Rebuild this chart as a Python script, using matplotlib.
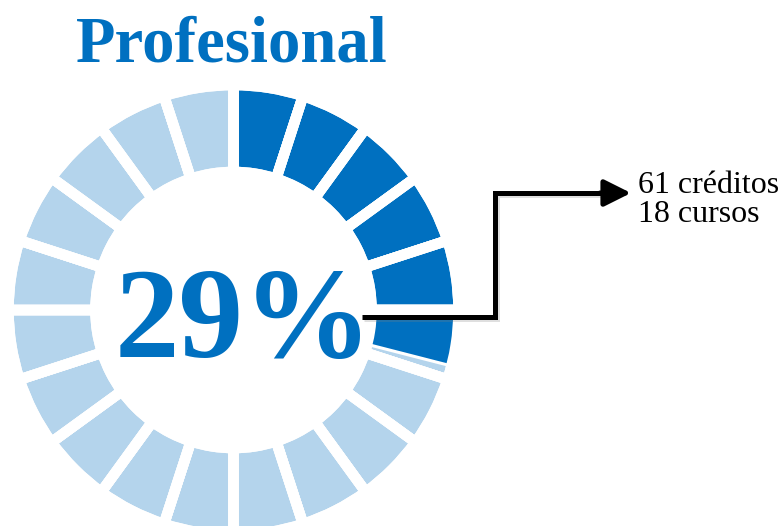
import matplotlib
matplotlib.use("Agg")
import matplotlib.pyplot as plt
import matplotlib.patheffects as pe

# ---- data ----
title = "Profesional"
percent = 29
n_segments = 20
info_lines = ["61 créditos", "18 cursos"]

dark = "#0070C0"
light = "#B4D4EC"

W, H = 784, 526
fig = plt.figure(figsize=(W / 100, H / 100), dpi=100)
ax = fig.add_axes([0, 0, 1, 1])

cx, cy = 233.5, H - 310
R = 225
width = 87
gap_pt = 7.6

filled = percent / 100 * n_segments
full = int(filled)
seg_cols = [dark] * full + [light] * (n_segments - full)

common = dict(radius=R, center=(cx, cy), startangle=90, counterclock=False, frame=True)

# 1) base segments
ax.pie([1] * n_segments, colors=seg_cols,
       wedgeprops=dict(width=width, edgecolor="white", linewidth=gap_pt, zorder=1),
       **common)

# 2) partial dark fill of the last (partially) filled segment
vals = [full, filled - full, n_segments - filled]
wedges, _ = ax.pie(vals, colors=["none", dark, "none"],
                   wedgeprops=dict(width=width, edgecolor="white", linewidth=2.2, zorder=2),
                   **common)
wedges[0].set_visible(False)
wedges[2].set_visible(False)

# 3) white gaps redrawn on top
ax.pie([1] * n_segments, colors=["none"] * n_segments,
       wedgeprops=dict(width=width, edgecolor="white", linewidth=gap_pt, zorder=3),
       **common)

ax.set_xlim(0, W)
ax.set_ylim(0, H)
ax.set_aspect("equal", adjustable="box")
ax.axis("off")

serif = ["Liberation Serif", "DejaVu Serif"]

ax.text(231.5, H - 62, title, ha="center", va="baseline", color=dark,
        fontsize=46.5, fontweight="bold", family=serif, zorder=5)

ax.text(244, H - 357, f"{percent}%", ha="center", va="baseline", color=dark,
        fontsize=93, fontweight="bold", family=serif, zorder=5)

# connector
shadow = [pe.SimpleLineShadow(offset=(1.5, -1.5), alpha=0.25, shadow_color="gray"), pe.Normal()]
ax.plot([362, 495, 495, 612], [H - 317, H - 317, H - 193, H - 193], color="black",
        lw=3.6, solid_joinstyle="miter", solid_capstyle="butt", path_effects=shadow, zorder=6)
ax.annotate("", xy=(631, H - 193), xytext=(600, H - 193),
            arrowprops=dict(arrowstyle="-|>,head_length=0.9,head_width=0.45",
                            color="black", lw=3.6, shrinkA=0, shrinkB=0,
                            mutation_scale=18), zorder=6)

for i, line in enumerate(info_lines):
    ax.text(638, H - 193 - 29 * i, line, ha="left", va="baseline", color="black",
            fontsize=23, family=serif, zorder=6)

fig.savefig("out.png", dpi=100)
